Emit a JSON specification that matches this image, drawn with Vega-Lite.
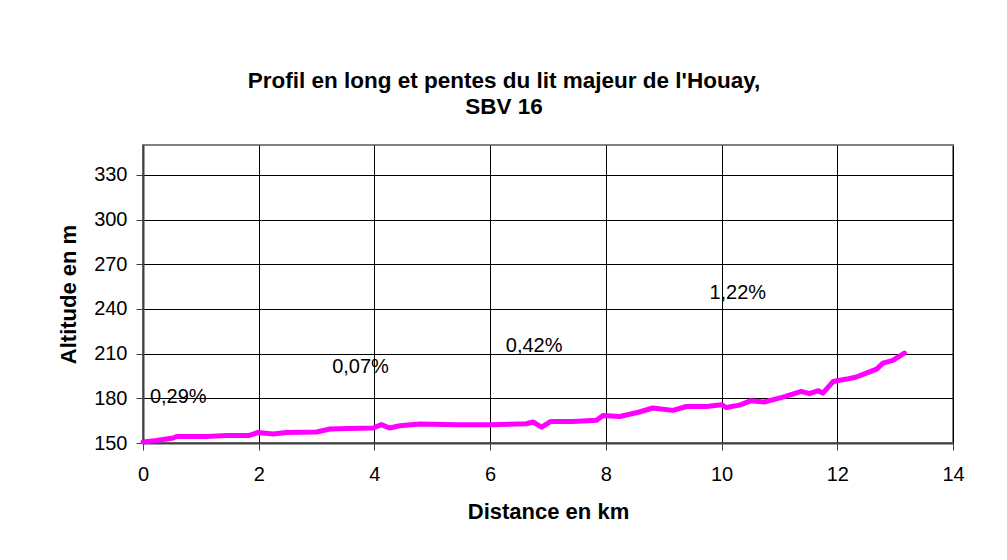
{
  "$schema": "https://vega.github.io/schema/vega-lite/v6.json",
  "autosize": "none",
  "width": 810,
  "height": 298,
  "padding": {"left": 143, "top": 145, "right": 54, "bottom": 117},
  "background": "white",
  "title": {
    "text": ["Profil en long et pentes du lit majeur de l'Houay,", "SBV 16"],
    "font": "Liberation Sans",
    "fontSize": 22.5,
    "fontWeight": "bold",
    "color": "black",
    "anchor": "middle",
    "dx": -44,
    "offset": 27,
    "lineHeight": 26
  },
  "config": {
    "view": {"stroke": "#808080", "strokeWidth": 2},
    "font": "Liberation Sans"
  },
  "datasets": {
    "profil": [
      {"d": 0.0, "alt": 150.7}, {"d": 0.23, "alt": 151.7}, {"d": 0.52, "alt": 153.4}, {"d": 0.58, "alt": 154.4},
      {"d": 1.10, "alt": 154.4}, {"d": 1.44, "alt": 155.1}, {"d": 1.84, "alt": 155.1}, {"d": 1.99, "alt": 157.1},
      {"d": 2.25, "alt": 156.0}, {"d": 2.48, "alt": 157.1}, {"d": 3.0, "alt": 157.4}, {"d": 3.23, "alt": 159.4},
      {"d": 3.54, "alt": 159.8}, {"d": 3.98, "alt": 160.1}, {"d": 4.12, "alt": 162.3}, {"d": 4.26, "alt": 160.1},
      {"d": 4.44, "alt": 161.6}, {"d": 4.78, "alt": 162.7}, {"d": 5.42, "alt": 162.3}, {"d": 5.99, "alt": 162.3},
      {"d": 6.63, "alt": 162.9}, {"d": 6.74, "alt": 164.1}, {"d": 6.89, "alt": 160.6}, {"d": 7.05, "alt": 164.5},
      {"d": 7.43, "alt": 164.5}, {"d": 7.84, "alt": 165.2}, {"d": 7.95, "alt": 168.5}, {"d": 8.24, "alt": 167.8},
      {"d": 8.58, "alt": 170.8}, {"d": 8.81, "alt": 173.5}, {"d": 9.16, "alt": 171.9}, {"d": 9.39, "alt": 174.5},
      {"d": 9.74, "alt": 174.5}, {"d": 10.0, "alt": 175.7}, {"d": 10.08, "alt": 173.8}, {"d": 10.31, "alt": 175.4},
      {"d": 10.50, "alt": 178.3}, {"d": 10.74, "alt": 177.5}, {"d": 11.06, "alt": 180.8}, {"d": 11.38, "alt": 184.6},
      {"d": 11.52, "alt": 183.1}, {"d": 11.67, "alt": 185.1}, {"d": 11.75, "alt": 183.5}, {"d": 11.93, "alt": 191.3},
      {"d": 12.16, "alt": 192.9}, {"d": 12.33, "alt": 194.3}, {"d": 12.5, "alt": 196.9}, {"d": 12.68, "alt": 199.6},
      {"d": 12.79, "alt": 203.6}, {"d": 12.96, "alt": 205.4}, {"d": 13.16, "alt": 210.3}
    ],
    "pentes": [
      {"d": 0.12, "alt": 181, "label": "0,29%"},
      {"d": 3.27, "alt": 201, "label": "0,07%"},
      {"d": 6.27, "alt": 215, "label": "0,42%"},
      {"d": 9.79, "alt": 250.6, "label": "1,22%"}
    ]
  },
  "layer": [
    {
      "data": {"name": "profil"},
      "mark": {"type": "line", "color": "#FF00FF", "strokeWidth": 5, "strokeCap": "round", "strokeJoin": "round"},
      "encoding": {
        "x": {
          "field": "d", "type": "quantitative",
          "scale": {"domain": [0, 14], "nice": false, "zero": false},
          "axis": {
            "title": "Distance en km",
            "values": [0, 2, 4, 6, 8, 10, 12, 14],
            "format": "d",
            "grid": true, "gridColor": "black", "gridOpacity": 1, "gridWidth": 1,
            "domainColor": "#404040", "domainWidth": 2,
            "tickColor": "#404040", "tickSize": 7, "tickWidth": 1,
            "labelFont": "Liberation Sans", "labelFontSize": 20, "labelColor": "black", "labelPadding": 14,
            "labelFlush": false, "labelOverlap": false,
            "titleFont": "Liberation Sans", "titleFontSize": 22, "titleFontWeight": "bold", "titleColor": "black",
            "titlePadding": 17
          }
        },
        "y": {
          "field": "alt", "type": "quantitative",
          "scale": {"domain": [150, 350], "nice": false, "zero": false},
          "axis": {
            "title": "Altitude en m",
            "values": [150, 180, 210, 240, 270, 300, 330],
            "grid": true, "gridColor": "black", "gridOpacity": 1, "gridWidth": 1,
            "domainColor": "#404040", "domainWidth": 2,
            "tickColor": "#404040", "tickSize": 7, "tickWidth": 1,
            "labelFont": "Liberation Sans", "labelFontSize": 20, "labelColor": "black", "labelPadding": 9,
            "labelFlush": false, "labelOverlap": false,
            "titleFont": "Liberation Sans", "titleFontSize": 22, "titleFontWeight": "bold", "titleColor": "black",
            "titlePadding": 13
          }
        }
      }
    },
    {
      "data": {"name": "pentes"},
      "mark": {"type": "text", "align": "left", "baseline": "middle", "font": "Liberation Sans", "fontSize": 20, "color": "black"},
      "encoding": {
        "x": {"field": "d", "type": "quantitative"},
        "y": {"field": "alt", "type": "quantitative"},
        "text": {"field": "label"}
      }
    }
  ]
}
